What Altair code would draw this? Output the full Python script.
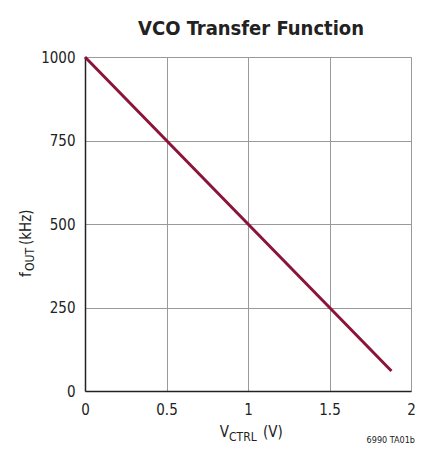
import altair as alt
import pandas as pd

# ---- data ----
v_ctrl = [0.0, 0.5, 1.0, 1.5, 1.88]
f_out = [1000, 750, 500, 250, 60]
x_ticks = [0, 0.5, 1, 1.5, 2]
y_ticks = [0, 250, 500, 750, 1000]
title_text = "VCO Transfer Function"
x_title_parts = ["V", "CTRL", "(V)"]
y_title_parts = ["f", "OUT", "(kHz)"]
note_text = "6990 TA01b"

FONT = "Liberation Sans Narrow, DejaVu Sans Condensed, Arial Narrow, sans-serif"
LINE_COLOR = "#8b1538"
INK = "#222"
W, H = 326, 334

df = pd.DataFrame({"v": v_ctrl, "f": f_out})

axis_common = dict(title=None, grid=True, gridColor="#9a9a9a", gridWidth=1,
                   tickSize=0, labelFontSize=15, labelFont=FONT,
                   labelColor=INK, domainColor=INK, domainWidth=1.5,
                   labelFlush=False)

line = alt.Chart(df).mark_line(color=LINE_COLOR, strokeWidth=3).encode(
    x=alt.X("v:Q", scale=alt.Scale(domain=[0, 2], nice=False),
            axis=alt.Axis(values=x_ticks, format="~g", labelPadding=11,
                          **axis_common)),
    y=alt.Y("f:Q", scale=alt.Scale(domain=[0, 1000], nice=False),
            axis=alt.Axis(values=y_ticks, format="d", labelPadding=10,
                          **axis_common)),
)


def txt(s, x, y, size, align="left", angle=0, weight="normal"):
    kw = dict(align=align, baseline="alphabetic", font=FONT, fontSize=size,
              fontWeight=weight, color=INK)
    if angle:
        kw["angle"] = angle
    return alt.Chart(pd.DataFrame({"t": [s]})).mark_text(**kw).encode(
        text="t:N", x=alt.value(x), y=alt.value(y))


layers = [
    line,
    txt(title_text, W / 2 + 3, -22, 20, align="center", weight="bold"),
    # x-axis title with subscript
    txt(x_title_parts[0], 144, 380, 15, align="right"),
    txt(x_title_parts[1], 144, 384, 12, align="left"),
    txt(x_title_parts[2], 178, 380, 15, align="left"),
    # y-axis title with subscript (rotated)
    txt(y_title_parts[0], -54, 220, 15, align="left", angle=270),
    txt(y_title_parts[1], -51, 214, 12, align="left", angle=270),
    txt(y_title_parts[2], -54, 188, 15, align="left", angle=270),
    txt(note_text, W + 4, 386, 9, align="right"),
]

chart = alt.layer(*layers).properties(
    width=W, height=H,
    autosize=alt.AutoSizeParams(type="none"),
    padding={"left": 77, "top": 49, "right": 5, "bottom": 54},
).configure_view(stroke=INK, strokeWidth=1.5).configure(background="white")

chart.save("out.html", embed_options={"renderer": "svg", "actions": False})
